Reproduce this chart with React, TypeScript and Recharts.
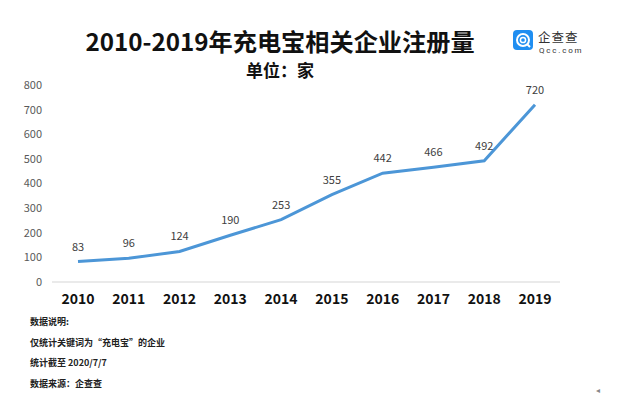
import { LineChart, Line, XAxis, YAxis, CartesianGrid, LabelList } from "recharts";

const YEARS = ["2010", "2011", "2012", "2013", "2014", "2015", "2016", "2017", "2018", "2019"];
const COUNTS = [83, 96, 124, 190, 253, 355, 442, 466, 492, 720];
const Y_TICKS = [0, 100, 200, 300, 400, 500, 600, 700, 800];
const NOTES = ["数据说明:", "仅统计关键词为“充电宝”的企业", "统计截至 2020/7/7", "数据来源：企查查"];

const FONT = '"Noto Sans CJK SC", "Noto Sans", sans-serif';

export default function App() {
  const data = YEARS.map((y, i) => ({ year: y, count: COUNTS[i] }));

  return (
    <div style={{ position: "fixed", left: 0, top: 0, width: 618, height: 397, background: "#fff", fontFamily: FONT, overflow: "hidden" }}>
      <div style={{ position: "absolute", left: 80, width: 400, top: 26, textAlign: "center", fontSize: 24.2, fontWeight: 700, color: "#111", lineHeight: "30px", whiteSpace: "nowrap" }}>
        2010-2019年充电宝相关企业注册量
      </div>
      <div style={{ position: "absolute", left: 180, width: 200, top: 60, textAlign: "center", fontSize: 17, fontWeight: 700, color: "#111", lineHeight: "20px" }}>
        单位：家
      </div>
      {/* logo */}
      <div style={{ position: "absolute", left: 513, top: 30, width: 20, height: 20, borderRadius: 4, background: "#1F8EF1" }}>
        <svg width="20" height="20">
          <circle cx="10" cy="10" r="6" fill="none" stroke="#fff" strokeWidth="2" />
          <circle cx="10" cy="10" r="2.6" fill="none" stroke="#fff" strokeWidth="1.5" />
          <path d="M14 14 L17 17" stroke="#fff" strokeWidth="2" />
        </svg>
      </div>
      <div style={{ position: "absolute", left: 538, top: 29.5, fontSize: 12.5, color: "#333", lineHeight: "14px", letterSpacing: 1 }}>企查查</div>
      <div style={{ position: "absolute", left: 539, top: 46, fontSize: 8, fontFamily: "Roboto, sans-serif", color: "#333", lineHeight: "9px", letterSpacing: 1.8 }}>Qcc.com</div>

      <div style={{ position: "absolute", left: 0, top: 0 }}>
        <LineChart width={618} height={397} data={data} margin={{ top: 85, right: 58, bottom: 85, left: 12 }}>
          <CartesianGrid horizontal={false} vertical={false} />
          <XAxis
            dataKey="year"
            height={30}
            padding={{ left: 26, right: 25 }}
            axisLine={{ stroke: "#e3e3e3", strokeWidth: 1.5 }}
            tickLine={false}
            tickMargin={6}
            tick={{ fontSize: 14, fontWeight: 700, fill: "#111", fontFamily: FONT }}
          />
          <YAxis
            width={40}
            domain={[0, 800]}
            ticks={Y_TICKS}
            axisLine={false}
            tickLine={false}
            tickMargin={4}
            tick={{ fontSize: 11, fill: "#595959", fontFamily: FONT }}
          />
          <Line
            type="linear"
            dataKey="count"
            stroke="#4C96D7"
            strokeWidth={3}
            dot={false}
            isAnimationActive={false}
          >
            <LabelList dataKey="count" position="top" offset={11} style={{ fontSize: 11, fill: "#404040", fontFamily: FONT }} />
          </Line>
        </LineChart>
      </div>

      {NOTES.map((n, i) => (
        <div key={i} style={{ position: "absolute", left: 30, top: 315 + i * 20.7, fontSize: 9, fontWeight: 700, color: "#222", lineHeight: "13px" }}>
          {n}
        </div>
      ))}
      <div style={{ position: "absolute", left: 596, top: 384, fontSize: 8, color: "#888" }}>◂</div>
    </div>
  );
}
